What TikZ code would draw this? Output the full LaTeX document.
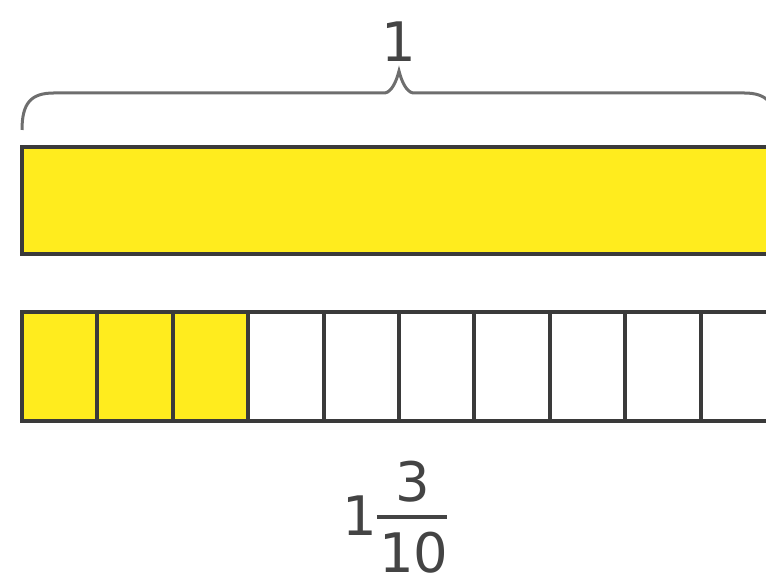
\documentclass[tikz,border=0pt]{standalone}
\usepackage{fontspec}
\setmainfont{DejaVu Sans}
\usepackage{tikz}
\definecolor{byellow}{HTML}{FFEC1E}
\definecolor{bline}{HTML}{3A3A3A}
\definecolor{bbrace}{HTML}{6E6E6E}
\definecolor{btext}{HTML}{444444}
\tikzset{
  bigdigit/.style={font=\fontsize{31}{36}\selectfont, text=btext, inner sep=0pt},
  barline/.style={draw=bline, line width=0.08cm}
}

\begin{document}
\begin{tikzpicture}[x=1cm, y=1cm]
\useasboundingbox (0,0) rectangle (15.32,11.76);
\clip (0,0) rectangle (15.32,11.76);
% brace over the whole
\draw[bbrace, line width=0.06cm, line join=miter]
  (0.44,9.16) .. controls (0.44,9.70) and (0.62,9.90) .. (1.08,9.90) -- (7.70,9.90)
  .. controls (7.82,9.92) and (7.92,10.10) .. (7.98,10.34)
  .. controls (8.04,10.10) and (8.14,9.92) .. (8.26,9.90) -- (14.88,9.90)
  .. controls (15.34,9.90) and (15.52,9.70) .. (15.52,9.16);
\node[bigdigit] (whole) at (7.98,10.92) {1};
% top bar
\filldraw[fill=byellow, barline] (0.44,6.68) rectangle (15.52,8.82);
% bottom bar in tenths
\fill[byellow] (0.44,3.34) rectangle (4.964,5.52);
\foreach \i in {0,...,9}
  \draw[barline] (0.44+1.508*\i,3.34) rectangle ++(1.508,2.18);
% mixed number
\node[bigdigit] (wholepart) at (7.20,1.44) {1};
\node[bigdigit] (numer) at (8.26,2.12) {3};
\node[bigdigit] (denom) at (8.28,0.70) {10};
\draw[btext, line width=0.07cm] (denom.west |- wholepart) ++(-0.04,-0.02) -- ++(1.40,0);
\end{tikzpicture}
\end{document}
